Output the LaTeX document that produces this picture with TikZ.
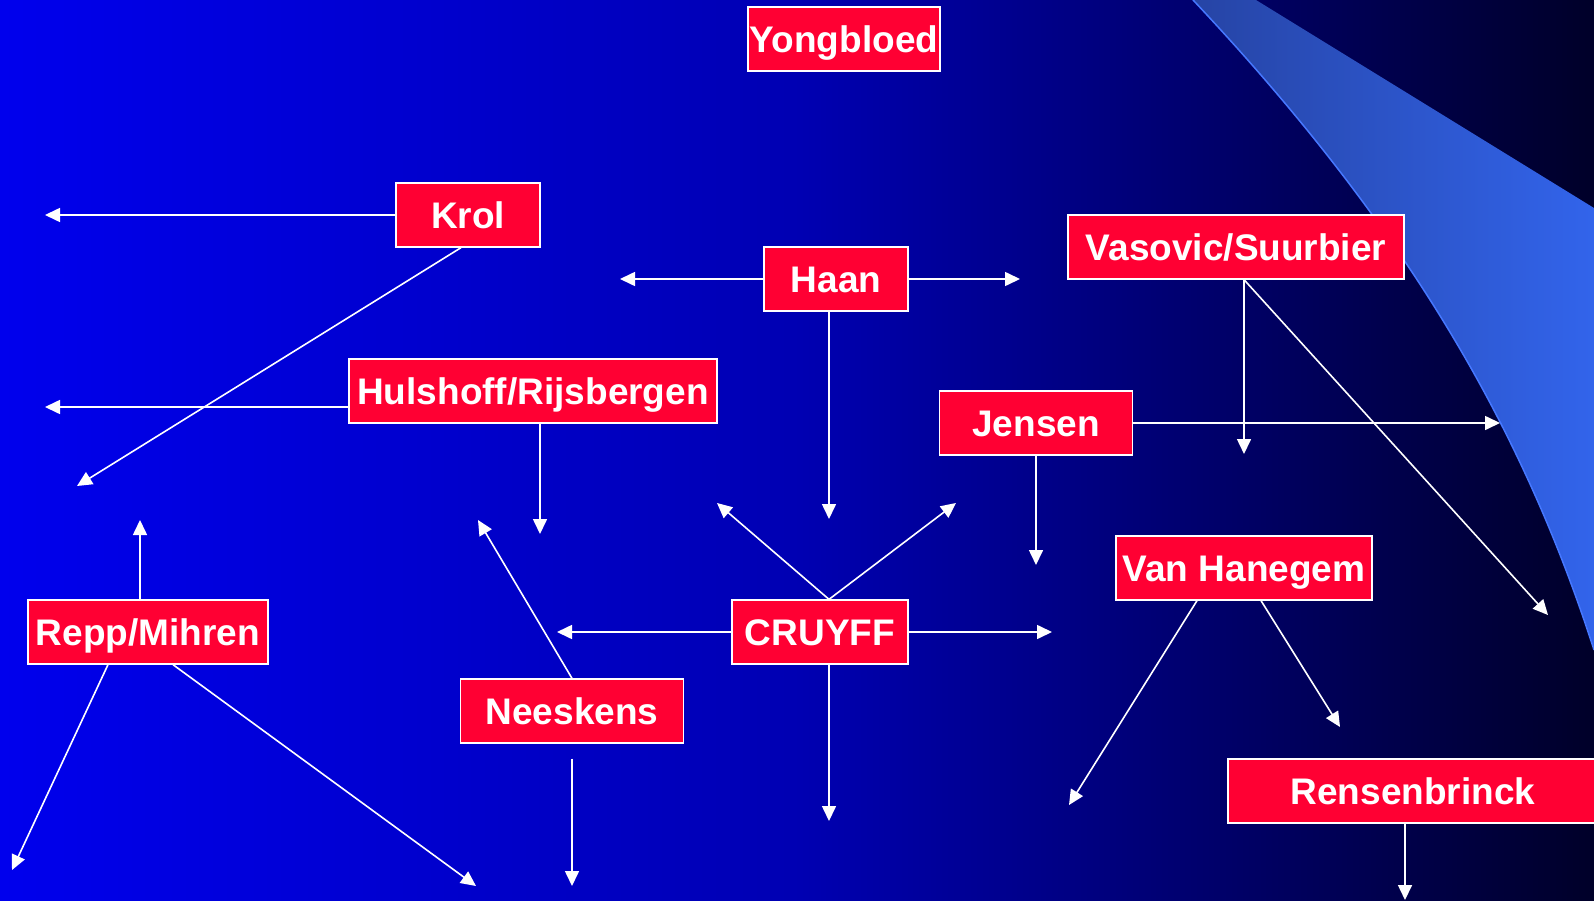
\documentclass[tikz,border=0pt]{standalone}
\usepackage{fontspec}
\setmainfont{Liberation Sans}
\usetikzlibrary{arrows.meta}
\pgfdeclarehorizontalshading{bgshade}{100bp}{rgb(0bp)=(0,0,0.93); rgb(25bp)=(0,0,0.93); rgb(50bp)=(0,0,0.70); rgb(75bp)=(0,0,0.16); rgb(100bp)=(0,0,0.16)}
\definecolor{boxred}{RGB}{255,0,51}
\definecolor{swleft}{RGB}{38,68,165}
\definecolor{swright}{RGB}{50,100,235}
\definecolor{swedge}{RGB}{70,120,255}
\begin{document}
\begin{tikzpicture}[x=1pt,y=-1pt,
  player/.style={draw=white, line width=1.3pt, fill=boxred, text=white,
    font=\fontsize{37}{40}\selectfont\bfseries, inner sep=0pt, minimum height=64pt,
    text height=26.5pt, text depth=0pt},
  link/.style={draw=white, line width=1.6pt, -{Triangle[length=15pt,width=14pt]}}]
\useasboundingbox (0,0) rectangle (1594,901);
\begin{scope}
\clip (0,0) rectangle (1594,901);
\shade[shading=bgshade] (0,0) rectangle (1594,901);
% swoosh
\shade[left color=swleft, right color=swright]
  (1193,0) -- (1256,0) -- (1594,208) -- (1594,650)
  .. controls (1520,420) and (1400,220) .. (1193,0) -- cycle;
\draw[swedge, line width=1.5pt] (1594,650) .. controls (1520,420) and (1400,220) .. (1193,0);

% nodes
\node[player, minimum width=192pt] (yong) at (844,39) {Yongbloed};
\node[player, minimum width=144pt] (krol) at (468,215) {Krol};
\node[player, minimum width=144pt] (haan) at (836,279) {Haan};
\node[player, minimum width=336pt] (vaso) at (1236,247) {Vasovic/Suurbier};
\node[player, minimum width=368pt] (huls) at (533,391) {Hulshoff/Rijsbergen};
\node[player, minimum width=193pt] (jens) at (1036,423) {Jensen};
\node[player, minimum width=256pt] (vanh) at (1244,568) {Van Hanegem};
\node[player, minimum width=240pt] (repp) at (148,632) {Repp/Mihren};
\node[player, minimum width=176pt] (cruy) at (820,632) {CRUYFF};
\node[player, minimum width=223pt] (nees) at (572,711) {Neeskens};
\node[player, minimum width=370pt] (rens) at (1413,791) {Rensenbrinck};

% arrow tips
\coordinate (t1) at (45,215);
\coordinate (t2) at (77,486);
\coordinate (t3) at (45,407);
\coordinate (t4) at (540,534);
\coordinate (t5) at (620,279);
\coordinate (t6) at (1020,279);
\coordinate (t7) at (829,519);
\coordinate (t8) at (1244,454);
\coordinate (t9) at (1548,615);
\coordinate (t10) at (1500,423);
\coordinate (t11) at (1036,565);
\coordinate (t12) at (717,503);
\coordinate (t13) at (956,503);
\coordinate (t14) at (557,632);
\coordinate (t15) at (1052,632);
\coordinate (t16) at (829,821);
\coordinate (t17) at (1069,805);
\coordinate (t18) at (1340,727);
\coordinate (t19) at (1405,900);
\coordinate (t20) at (140,520);
\coordinate (t21) at (12,870);
\coordinate (t22) at (476,886);
\coordinate (t23) at (478,520);
\coordinate (t24) at (572,886);

% connectors
\draw[link] (krol.west) -- (t1);
\draw[link] ([xshift=-7pt]krol.south) -- (t2);
\draw[link] ([yshift=-16pt]huls.west) -- (t3);
\draw[link] ([xshift=7pt]huls.south) -- (t4);
\draw[link] (haan.west) -- (t5);
\draw[link] (haan.east) -- (t6);
\draw[link] ([xshift=-7pt]haan.south) -- (t7);
\draw[link] ([xshift=8pt]vaso.south) -- (t8);
\draw[link] ([xshift=8pt]vaso.south) -- (t9);
\draw[link] (jens.east) -- (t10);
\draw[link] (jens.south) -- (t11);
\draw[link] ([xshift=9pt]cruy.north) -- (t12);
\draw[link] ([xshift=9pt]cruy.north) -- (t13);
\draw[link] (cruy.west) -- (t14);
\draw[link] (cruy.east) -- (t15);
\draw[link] ([xshift=9pt]cruy.south) -- (t16);
\draw[link] ([xshift=-47pt]vanh.south) -- (t17);
\draw[link] ([xshift=17pt]vanh.south) -- (t18);
\draw[link] ([xshift=-8pt]rens.south) -- (t19);
\draw[link] ([xshift=-8pt]repp.north) -- (t20);
\draw[link] ([xshift=-40pt]repp.south) -- (t21);
\draw[link] ([xshift=25pt]repp.south) -- (t22);
\draw[link] (nees.north) -- (t23);
\draw[link] ([yshift=-15pt]nees.south) -- (t24);
\end{scope}
\end{tikzpicture}
\end{document}
